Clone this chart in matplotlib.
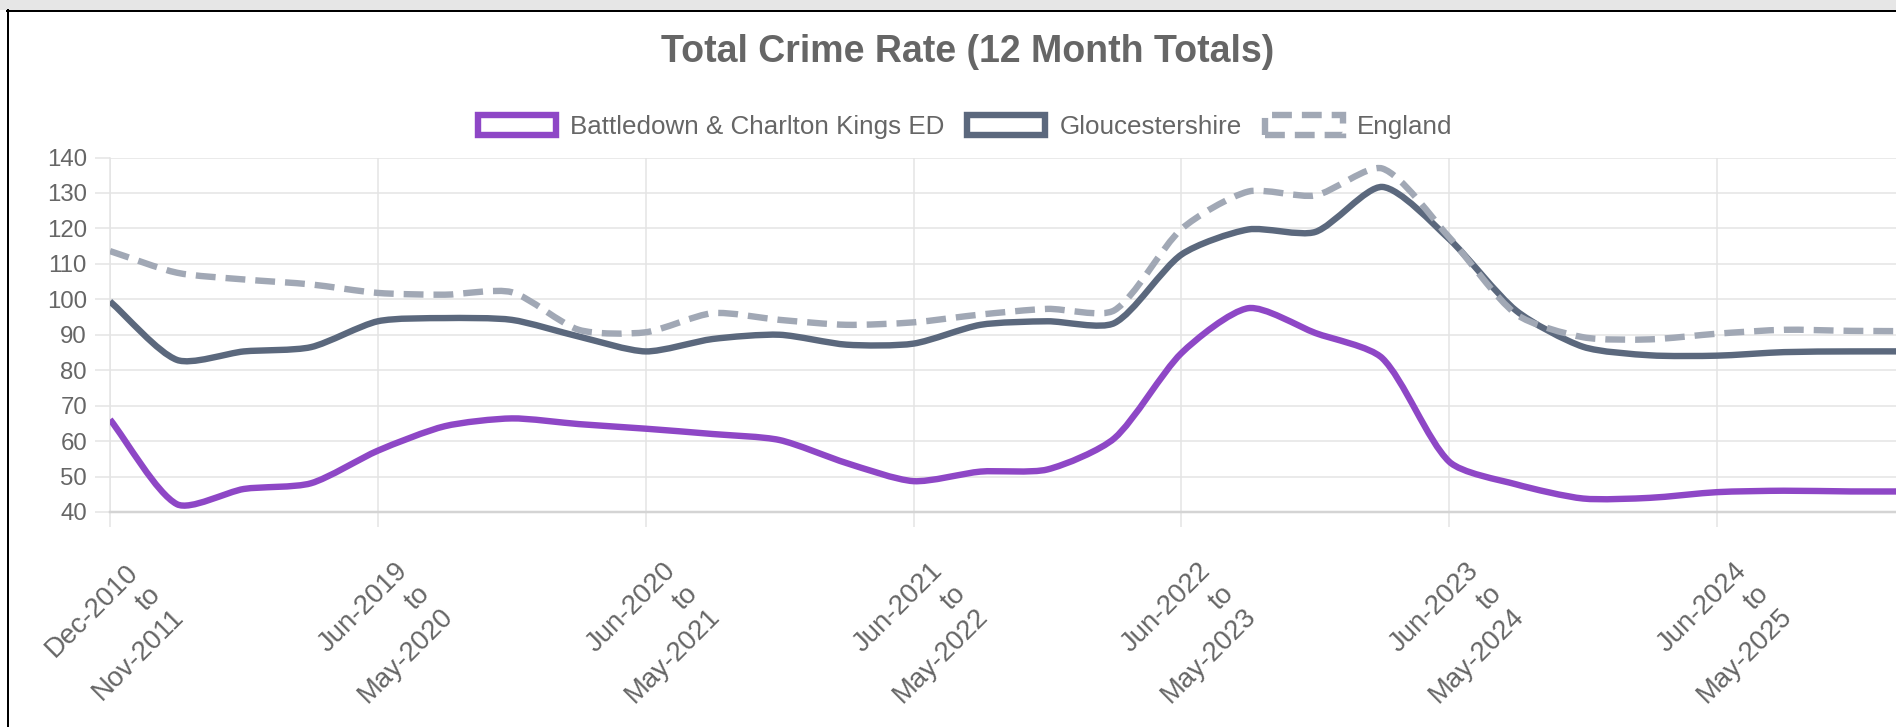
import numpy as np
import matplotlib
matplotlib.use('Agg')
import matplotlib.pyplot as plt
from matplotlib.path import Path
from matplotlib.patches import PathPatch, Patch, Rectangle
from matplotlib.lines import Line2D
from matplotlib.transforms import ScaledTranslation

plt.rcParams['font.family'] = ['Liberation Sans', 'DejaVu Sans']

# 12-month windows (only every 4th one gets a label on the axis)
periods = [
    'Dec-2010 to Nov-2011', 'Sep-2018 to Aug-2019', 'Dec-2018 to Nov-2019', 'Mar-2019 to Feb-2020',
    'Jun-2019 to May-2020', 'Sep-2019 to Aug-2020', 'Dec-2019 to Nov-2020', 'Mar-2020 to Feb-2021',
    'Jun-2020 to May-2021', 'Sep-2020 to Aug-2021', 'Dec-2020 to Nov-2021', 'Mar-2021 to Feb-2022',
    'Jun-2021 to May-2022', 'Sep-2021 to Aug-2022', 'Dec-2021 to Nov-2022', 'Mar-2022 to Feb-2023',
    'Jun-2022 to May-2023', 'Sep-2022 to Aug-2023', 'Dec-2022 to Nov-2023', 'Mar-2023 to Feb-2024',
    'Jun-2023 to May-2024', 'Sep-2023 to Aug-2024', 'Dec-2023 to Nov-2024', 'Mar-2024 to Feb-2025',
    'Jun-2024 to May-2025', 'Sep-2024 to Aug-2025', 'Dec-2024 to Nov-2025', 'Mar-2025 to Feb-2026',
]

battledown = [66.1, 42.2, 46.5, 48.1, 57.3, 64.2, 66.4, 64.8, 63.5, 62.0, 60.3, 53.8, 48.7, 51.4,
              52.0, 60.8, 84.8, 97.5, 90.5, 83.4, 54.2, 47.8, 43.8, 44.0, 45.6, 46.0, 45.8, 45.8]
gloucestershire = [99.4, 82.9, 85.3, 86.5, 93.8, 94.7, 94.2, 89.5, 85.3, 88.8, 90.0, 87.2, 87.5, 92.8,
                   93.8, 93.3, 112.6, 119.7, 119.0, 131.7, 117.0, 96.8, 86.6, 84.2, 84.1, 85.1, 85.3, 85.3]
england = [113.6, 107.5, 105.6, 104.2, 101.8, 101.3, 102.0, 91.4, 90.7, 96.1, 94.2, 92.8, 93.5, 95.7,
           97.3, 96.9, 119.8, 130.4, 129.3, 136.9, 117.5, 95.8, 89.3, 88.7, 90.3, 91.4, 91.1, 91.0]

series_names = ['Battledown & Charlton Kings ED', 'Gloucestershire', 'England']
series_colors = ['#8e47c6', '#5b687d', '#a1a8b5']

W, H = 1896, 727
PT = 72 / 100  # points per pixel
GRID = '#e4e4e4'
TXT = '#666666'
LW = 6.4 * PT
DASH = (0, (3.1, 1.56))


def spline_path(ax, xs, ys, tension=0.25):
    # bezier curve like chart.js line tension, control points worked out in pixel space
    pts = ax.transData.transform(np.column_stack([xs, ys]))
    n = len(pts)
    cprev, cnext = [], []
    for i in range(n):
        p0, p1, p2 = pts[max(i - 1, 0)], pts[i], pts[min(i + 1, n - 1)]
        d01 = np.hypot(*(p1 - p0))
        d12 = np.hypot(*(p2 - p1))
        tot = d01 + d12
        fa = tension * d01 / tot if tot else 0
        fb = tension * d12 / tot if tot else 0
        cprev.append(p1 - fa * (p2 - p0))
        cnext.append(p1 + fb * (p2 - p0))
    verts = [pts[0]]
    codes = [Path.MOVETO]
    for i in range(1, n):
        verts += [cnext[i - 1], cprev[i], pts[i]]
        codes += [Path.CURVE4] * 3
    verts = ax.transData.inverted().transform(np.array(verts))
    return Path(verts, codes)


fig = plt.figure(figsize=(W / 100, H / 100), dpi=100)

# screenshot frame: grey strip on top, black border
fig.add_artist(Rectangle((0, 1 - 10 / H), 1, 10 / H, transform=fig.transFigure,
                         facecolor='#e6e6e6', edgecolor='none'))
fig.add_artist(Line2D([7 / W, 1], [1 - 10.5 / H] * 2, transform=fig.transFigure, color='black', lw=2 * PT))
fig.add_artist(Line2D([7.5 / W] * 2, [0, 1 - 10 / H], transform=fig.transFigure, color='black', lw=2 * PT))

left, right = 110, W
top, bottom = 157.5, 512
ax = fig.add_axes([left / W, 1 - bottom / H, (right - left) / W, (bottom - top) / H])

x = np.arange(len(periods))
ax.set_xlim(0, (right - left) / 66.96)
ax.set_ylim(40, 140)
ax.set_yticks(range(40, 141, 10))
ax.set_xticks(x[::4])
ax.set_xticklabels([p.replace(' to ', '\nto\n') for p in periods[::4]])

ax.grid(True, color=GRID, lw=1.5 * PT, zorder=0)
ax.set_axisbelow(True)
ax.tick_params(axis='both', length=15 * PT, width=1.5 * PT, color=GRID, labelcolor=TXT)
ax.tick_params(axis='y', labelsize=24 * PT, pad=8 * PT)
ax.tick_params(axis='x', labelsize=27.5 * PT, pad=106 * PT)
shift = ScaledTranslation(5 / 100, 0, fig.dpi_scale_trans)
for lab in ax.get_xticklabels():
    lab.set_rotation(45)
    lab.set_rotation_mode('anchor')
    lab.set_ha('center')
    lab.set_va('center')
    lab.set_multialignment('right')
    lab.set_linespacing(1.3)
    lab.set_transform(lab.get_transform() + shift)

for s in ['top', 'right']:
    ax.spines[s].set_visible(False)
ax.spines['left'].set_color(GRID)
ax.spines['left'].set_linewidth(1.5 * PT)
ax.spines['bottom'].set_color('#d4d4d4')
ax.spines['bottom'].set_linewidth(2.5 * PT)

series = [battledown, gloucestershire, england]
styles = ['-', '-', DASH]
for vals, col, ls in zip(series, series_colors, styles):
    ax.add_patch(PathPatch(spline_path(ax, x, vals), facecolor='none', edgecolor=col,
                           lw=LW, linestyle=ls, joinstyle='round', capstyle='butt', zorder=3))

handles = [Patch(facecolor='white', edgecolor=c, lw=LW, linestyle=ls)
           for c, ls in zip(series_colors, styles)]
fig.legend(handles, series_names, loc='center', bbox_to_anchor=(965 / W, 1 - 127 / H), ncol=3,
           frameon=False, fontsize=26 * PT, labelcolor=TXT, handlelength=3.0, handleheight=0.82,
           handletextpad=0.55, columnspacing=0.88, borderpad=0)

fig.text(968 / W, 1 - 52 / H, 'Total Crime Rate (12 Month Totals)', ha='center', va='center',
         fontsize=37.5 * PT, fontweight='bold', color=TXT)

fig.savefig('out.png', dpi=100)
